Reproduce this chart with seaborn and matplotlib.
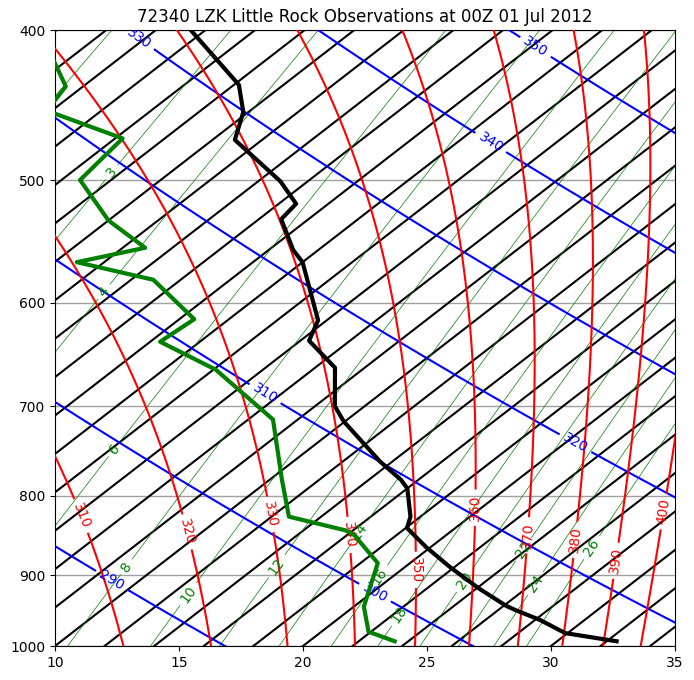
import numpy as np
import pandas as pd
import matplotlib
matplotlib.use("Agg")
import matplotlib.pyplot as plt
import seaborn as sns

# ---------------- data ----------------
title = "72340 LZK Little Rock Observations at 00Z 01 Jul 2012"

temp_p = [993, 981, 962, 948, 942, 918, 889, 863, 839, 825, 791, 781, 760,
          716, 700, 661, 635, 616, 565, 555, 530, 518, 501, 471, 452, 434, 400]
temp_c = [32.4, 29.9, 28.2, 26.7, 26.1, 24.1, 21.8, 19.8, 18.05, 17.6, 16.0,
          15.3, 13.5, 9.95, 8.8, 6.8, 4.35, 3.65, 0.0, -1.0, -3.1, -3.3, -5.1,
          -9.1, -10.2, -11.8, -16.6]

dewp_p = [993, 979, 943, 884, 848, 842, 825, 781, 714, 663, 636, 615, 580,
          565, 553, 531, 500, 470, 451, 435, 400]
dewp_c = [23.45, 21.9, 20.4, 18.7, 16.3, 15.7, 12.7, 10.5, 7.0, 2.1, -1.6,
          -1.4, -5.1, -9.1, -7.1, -10.0, -13.25, -13.7, -18.2, -18.7, -22.7]

isotherm_levels = list(range(-40, 42, 2))
theta_levels = [290, 300, 310, 320, 330, 340, 350]
thetae_levels = [310, 320, 330, 340, 350, 360, 370, 380, 390, 400]
mixr_unlabeled = [2]
mixr_labeled = [3, 4, 6, 8, 10, 12, 14, 16, 18, 20, 22, 24, 26]
x_ticks = [10, 15, 20, 25, 30, 35]
p_ticks = [400, 500, 600, 700, 800, 900, 1000]

# label anchor positions (skewed x, pressure) - layout only
theta_label_pos = [(13.4, 405), (29.6, 405), (27.6, 472), (18.5, 686),
                   (31.0, 739), (12.3, 906), (22.9, 924)]
thetae_label_pos = [(10.9, 826), (15.2, 845), (18.5, 823), (21.8, 848),
                    (24.35, 893), (26.8, 814), (29.0, 848), (31.0, 854),
                    (32.65, 881), (34.6, 819)]
mixr_label_pos = [(12.2, 493), (11.9, 589), (12.3, 744), (12.8, 887),
                  (15.3, 924), (18.9, 887), (22.2, 842), (23.0, 900),
                  (23.8, 952), (26.45, 906), (28.75, 863), (29.35, 911),
                  (31.6, 863)]

SKEW = 35.0


def skew_x(t, p):
    return np.asarray(t, float) + SKEW * np.log(1000.0 / np.asarray(p, float))


# ---------------- figure ----------------
fig = plt.figure(figsize=(6.94, 6.80), dpi=100)
ax = fig.add_axes([55 / 694, 34 / 680, 620 / 694, 616 / 680])
ax.set_yscale("log")
ax.set_ylim(1000, 400)
ax.set_xlim(10, 35)

xs = np.linspace(8, 37, 500)
ps = np.geomspace(1020, 390, 500)
X, P = np.meshgrid(xs, ps)
T = X - SKEW * np.log(1000.0 / P)
TK = T + 273.15
theta = TK * (1000.0 / P) ** 0.2857
es = 6.112 * np.exp(17.67 * T / (T + 243.5))
r = 0.622 * es / (P - es)
cp_eff = 1004.0 + 1850.0 * r
thetae = theta * np.exp(2.54e6 * r * (P / 1000.0) ** 0.12 / (cp_eff * TK))
ws = 1000.0 * r

ax.contour(X, P, T, levels=isotherm_levels, colors="k", linewidths=1.5,
           linestyles="solid", zorder=2)

ax.contour(X, P, ws, levels=mixr_unlabeled, colors="g", linewidths=0.5,
           linestyles="solid", zorder=2)
cs_w = ax.contour(X, P, ws, levels=mixr_labeled, colors="g", linewidths=0.5,
                  linestyles="solid", zorder=2)
ax.clabel(cs_w, fmt="%d", fontsize=10, inline=True, manual=mixr_label_pos)

cs_th = ax.contour(X, P, theta, levels=theta_levels, colors="b", linewidths=1.5,
                   linestyles="solid", zorder=3)
ax.clabel(cs_th, fmt="%d", fontsize=10, inline=True, manual=theta_label_pos)

cs_te = ax.contour(X, P, thetae, levels=thetae_levels, colors="r", linewidths=1.5,
                   linestyles="solid", zorder=3)
ax.clabel(cs_te, fmt="%d", fontsize=10, inline=True, manual=thetae_label_pos)

df_t = pd.DataFrame({"x": skew_x(temp_c, temp_p), "p": temp_p})
df_d = pd.DataFrame({"x": skew_x(dewp_c, dewp_p), "p": dewp_p})
sns.lineplot(data=df_t, x="x", y="p", sort=False, estimator=None, color="black",
             linewidth=3, ax=ax, zorder=10)
sns.lineplot(data=df_d, x="x", y="p", sort=False, estimator=None, color="green",
             linewidth=3, ax=ax, zorder=10)

ax.set_yscale("log")
ax.set_ylim(1000, 400)
ax.set_xlim(10, 35)
ax.set_yticks(p_ticks, labels=[str(v) for v in p_ticks])
ax.set_xticks(x_ticks, labels=[str(v) for v in x_ticks])
ax.minorticks_off()
ax.yaxis.grid(True, color="#a0a0a0", linewidth=1.0, zorder=1)
ax.set_axisbelow(True)
ax.set_xlabel("")
ax.set_ylabel("")
ax.set_title(title, fontsize=12)

fig.savefig("out.png", dpi=100)
